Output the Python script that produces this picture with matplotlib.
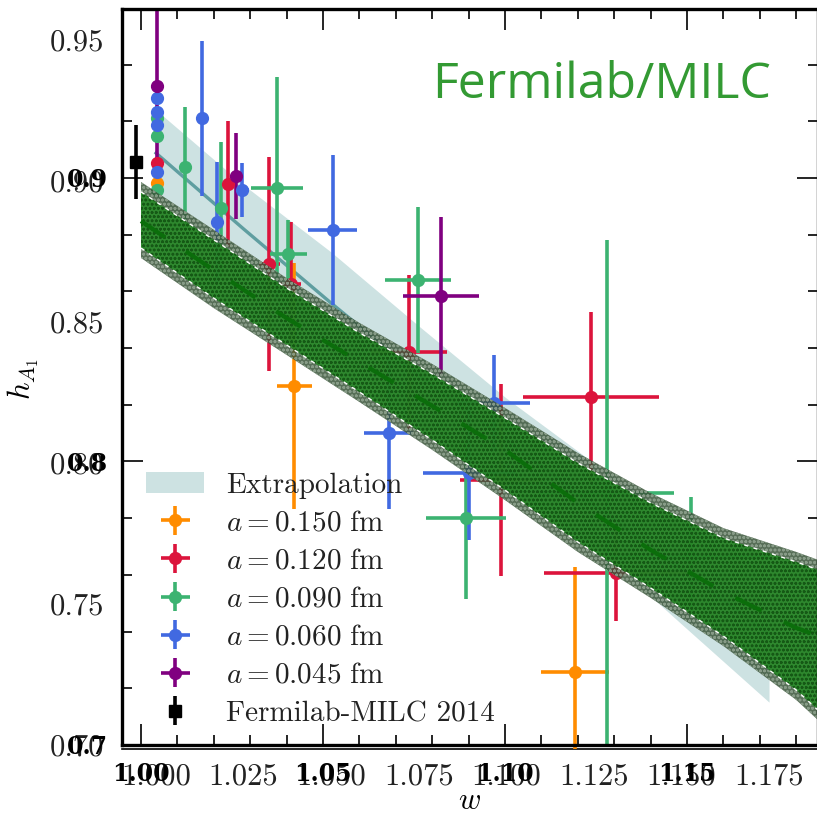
import matplotlib
matplotlib.use('Agg')
import matplotlib.pyplot as plt
import numpy as np
from matplotlib.ticker import FixedLocator, FixedFormatter, MultipleLocator

plt.rcParams['mathtext.fontset'] = 'cm'
plt.rcParams['font.family'] = 'cmr10'
plt.rcParams['axes.unicode_minus'] = False
plt.rcParams['axes.formatter.use_mathtext'] = True
plt.rcParams['hatch.linewidth'] = 0.8

# --- lattice data points (plot A coordinates) ---
orange_w = [1.0003, 1.0394, 1.1196]
orange_h = [0.8993, 0.8273, 0.7259]
orange_herr = [0.002, 0.0435, 0.0372]
orange_werr = [0, 0.005, 0.0098]

red_w = [1.0003, 1.0206, 1.0323, 1.0385, 1.0722, 1.0985, 1.1242, 1.1313]
red_h = [0.9064, 0.8989, 0.8706, 0.8635, 0.8394, 0.7940, 0.8234, 0.7610]
red_herr = [0.002, 0.0223, 0.038, 0.022, 0.0272, 0.034, 0.030, 0.0172]
red_werr = [0, 0, 0.003, 0.003, 0.0108, 0.0118, 0.0194, 0.0205]

green_w = [1.0003, 1.0003, 1.0003, 1.0083, 1.0186, 1.0345, 1.0377, 1.0748, 1.0885, 1.1287, 1.1527]
green_h = [0.9223, 0.9160, 0.8968, 0.9050, 0.8904, 0.8975, 0.8741, 0.8649, 0.7805, 0.7894, 0.7667]
green_herr = [0.002, 0.002, 0.002, 0.0213, 0.0234, 0.0394, 0.012, 0.0259, 0.0289, 0.0898, 0.0213]
green_werr = [0, 0, 0, 0, 0, 0.0074, 0.0053, 0.0094, 0.0114, 0.0193, 0.0227]

blue_w = [1.0003, 1.0003, 1.0003, 1.0003, 1.0131, 1.0174, 1.0246, 1.0505, 1.0665, 1.0894, 1.0965]
blue_h = [0.9294, 0.9245, 0.9199, 0.9032, 0.9223, 0.8855, 0.8968, 0.8826, 0.8106, 0.7965, 0.8213]
blue_herr = [0.002, 0.002, 0.002, 0.002, 0.0275, 0.0213, 0.0096, 0.0266, 0.0268, 0.0238, 0.017]
blue_werr = [0, 0, 0, 0, 0, 0, 0.002, 0.007, 0.007, 0.0133, 0.0103]

purple_w = [1.0003, 1.0228, 1.0814]
purple_h = [0.9337, 0.9018, 0.8592]
purple_herr = [0.027, 0.0154, 0.0282]
purple_werr = [0, 0, 0.0108]

fnal_w = [0.9943]
fnal_h = [0.9067]
fnal_herr = [0.0131]

# extrapolation band (plot A)
ext_w = [1.000, 1.025, 1.050, 1.075, 1.100, 1.125, 1.150, 1.175]
ext_c = [0.9099, 0.8830, 0.8567, 0.8312, 0.8082, 0.7851, 0.7624, 0.7394]
ext_hi = [0.9252, 0.8986, 0.8748, 0.8486, 0.8230, 0.8000, 0.7798, 0.7603]
ext_lo = [0.8947, 0.8674, 0.8401, 0.8138, 0.7904, 0.7709, 0.7429, 0.7152]

# Fermilab/MILC band (plot B)
fm_w = [1.00, 1.02, 1.04, 1.06, 1.08, 1.10, 1.12, 1.14, 1.16, 1.18, 1.186]
fm_c = [0.8848, 0.8675, 0.8506, 0.8351, 0.8196, 0.8041, 0.7854, 0.7688, 0.7540, 0.7413, 0.7385]
fm_hi = [0.8986, 0.8817, 0.8647, 0.8489, 0.8344, 0.8189, 0.8030, 0.7889, 0.7765, 0.7681, 0.7653]
fm_lo = [0.8718, 0.8541, 0.8376, 0.8210, 0.8041, 0.7864, 0.7681, 0.7519, 0.7349, 0.7159, 0.7088]

a_xticks = [1.000, 1.025, 1.050, 1.075, 1.100, 1.125, 1.150, 1.175]
a_yticks = [0.70, 0.75, 0.80, 0.85, 0.90, 0.95]
b_xticks = [1.00, 1.05, 1.10, 1.15]
b_yticks = [0.7, 0.8, 0.9]

W, H = 817, 814
fig = plt.figure(figsize=(W / 100, H / 100), dpi=100)
ax_a = fig.add_axes([122 / W, 65 / H, 696 / W, 740 / H])
ax_b = fig.add_axes([122 / W, 69 / H, 696 / W, 736 / H])
ax_b.set_facecolor('none')

# ---- plot A ----
ax_a.fill_between(ext_w, ext_lo, ext_hi, color='#cde2e2', lw=0, zorder=1, label='Extrapolation')
ax_a.plot(ext_w, ext_c, color='#5f9ea0', lw=2.4, zorder=2)

series = [
    (orange_w, orange_h, orange_werr, orange_herr, 'darkorange', r'$a = 0.150\ \mathrm{fm}$'),
    (red_w, red_h, red_werr, red_herr, 'crimson', r'$a = 0.120\ \mathrm{fm}$'),
    (green_w, green_h, green_werr, green_herr, 'mediumseagreen', r'$a = 0.090\ \mathrm{fm}$'),
    (blue_w, blue_h, blue_werr, blue_herr, 'royalblue', r'$a = 0.060\ \mathrm{fm}$'),
    (purple_w, purple_h, purple_werr, purple_herr, 'purple', r'$a = 0.045\ \mathrm{fm}$'),
]
for w, h, we, he, col, lab in series:
    ax_a.errorbar(w, h, xerr=we, yerr=he, fmt='o', color=col, ms=8.5,
                  elinewidth=2.6, capsize=0, zorder=3, label=lab)
ax_a.errorbar(fnal_w, fnal_h, yerr=fnal_herr, fmt='s', color='black', ms=8,
              elinewidth=2.6, capsize=0, zorder=3, label='Fermilab-MILC 2014')

ax_a.set_xlim(0.99029, 1.18898)
ax_a.set_ylim(0.69858, 0.9610)
ax_a.xaxis.set_major_locator(FixedLocator(a_xticks))
ax_a.xaxis.set_major_formatter(FixedFormatter(['%.3f' % v for v in a_xticks]))
ax_a.yaxis.set_major_locator(FixedLocator(a_yticks))
ax_a.yaxis.set_major_formatter(FixedFormatter(['%.2f' % v for v in a_yticks]))
ax_a.tick_params(length=0, labelsize=22, labelcolor='#222222')
ax_a.tick_params(axis='x', pad=10)
ax_a.tick_params(axis='y', pad=13)
for s in ['top', 'right', 'left']:
    ax_a.spines[s].set_visible(False)
ax_a.spines['bottom'].set_linewidth(1.2)
ax_a.set_xlabel(r'$w$', fontsize=22, labelpad=-2)
ax_a.set_ylabel(r'$h_{A_1}$', fontsize=22, labelpad=6)

leg = ax_a.legend(loc='lower left', bbox_to_anchor=(24 / 696, 22 / 740), frameon=False,
                  fontsize=21, handlelength=2.0, handletextpad=0.75, labelspacing=0.4,
                  borderpad=0, borderaxespad=0)
for t in leg.get_texts():
    t.set_color('#222222')

# ---- plot B ----
ax_b.fill_between(fm_w, fm_lo, fm_hi, facecolor='#3b563b', edgecolor='#8fa38f',
                  hatch='oooo', lw=0, alpha=0.85, zorder=1)
inner_lo = np.array(fm_lo) + 0.0035
inner_hi = np.array(fm_hi) - 0.0035
ax_b.fill_between(fm_w, inner_lo, inner_hi, facecolor='#248f24', edgecolor='#0d4d0d',
                  hatch='oooo', lw=0, alpha=0.8, zorder=2)
ax_b.plot(fm_w, inner_lo, color='white', lw=1, ls=(0, (3, 4)), zorder=3)
ax_b.plot(fm_w, inner_hi, color='white', lw=1, ls=(0, (3, 4)), zorder=3)
ax_b.plot(fm_w, fm_c, color='#0b6e0b', lw=3, ls=(0, (7, 6)), zorder=4)

ax_b.set_xlim(0.99478, 1.18599)
ax_b.set_ylim(0.70, 0.95961)
ax_b.xaxis.set_major_locator(FixedLocator(b_xticks))
ax_b.xaxis.set_major_formatter(FixedFormatter(['%.2f' % v for v in b_xticks]))
ax_b.xaxis.set_minor_locator(MultipleLocator(0.01))
ax_b.yaxis.set_major_locator(FixedLocator(b_yticks))
ax_b.yaxis.set_major_formatter(FixedFormatter(['%.1f' % v for v in b_yticks]))
ax_b.yaxis.set_minor_locator(MultipleLocator(0.02))
ax_b.tick_params(which='both', direction='in', top=True, right=True, width=1.2)
ax_b.tick_params(which='major', length=15)
ax_b.tick_params(which='minor', length=7.5)
ax_b.tick_params(axis='x', pad=12)
ax_b.tick_params(axis='y', pad=10)
for lab in ax_b.get_xticklabels() + ax_b.get_yticklabels():
    lab.set_fontfamily('DejaVu Serif')
    lab.set_fontweight('bold')
    lab.set_fontsize(17)
for s in ax_b.spines.values():
    s.set_linewidth(2.4)

fig.text(432 / W, (H - 98) / H, 'Fermilab/MILC', color='#339a33', fontsize=36,
         fontfamily='Open Sans', ha='left', va='baseline')

fig.savefig('out.png', dpi=100)
